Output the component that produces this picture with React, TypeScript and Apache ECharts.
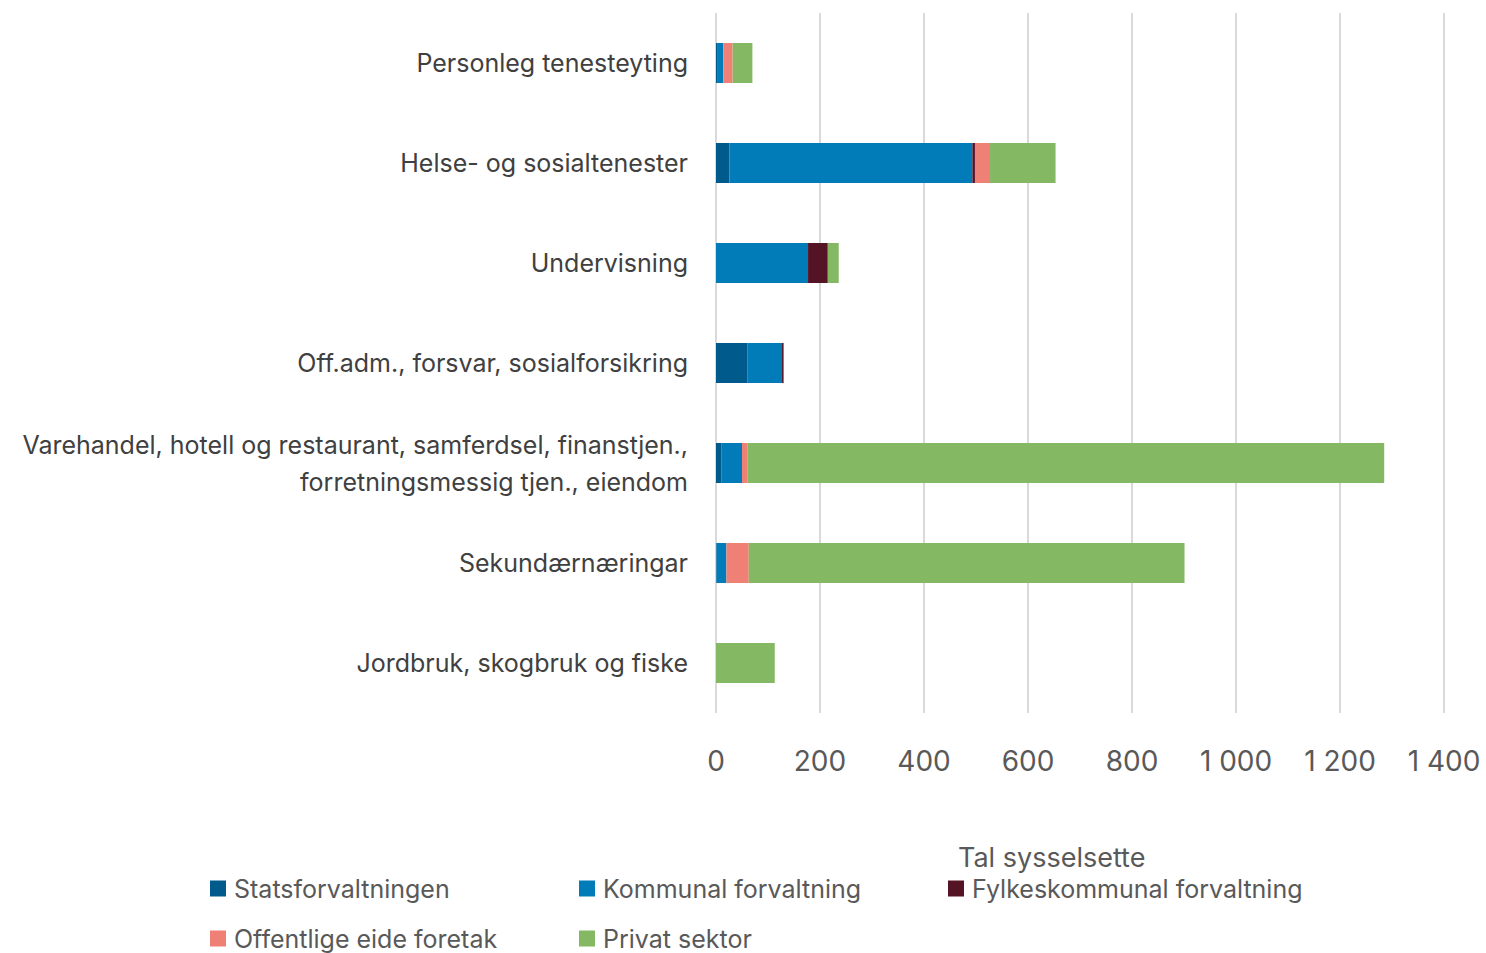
import React, { useEffect, useRef } from "react";
import * as echarts from "echarts";

const categories = [
  "Jordbruk, skogbruk og fiske",
  "Sekundærnæringar",
  "Varehandel, hotell og restaurant, samferdsel, finanstjen.,\nforretningsmessig tjen., eiendom",
  "Off.adm., forsvar, sosialforsikring",
  "Undervisning",
  "Helse- og sosialtenester",
  "Personleg tenesteyting",
];

const statsforvaltningen = [0, 1, 10, 60, 0, 26, 2];
const kommunal = [0, 19, 40, 67, 177, 467, 12];
const fylkeskommunal = [0, 0, 0, 3, 38, 5, 0];
const offentligeEide = [0, 43, 11, 0, 0, 29, 18];
const privatSektor = [113, 838, 1224, 0, 21, 126, 38];

const seriesNames = [
  "Statsforvaltningen",
  "Kommunal forvaltning",
  "Fylkeskommunal forvaltning",
  "Offentlige eide foretak",
  "Privat sektor",
];
const seriesData = [statsforvaltningen, kommunal, fylkeskommunal, offentligeEide, privatSektor];
const colors = ["#005a8c", "#027cb9", "#551326", "#ef8075", "#85b863"];

const xTicks = { min: 0, max: 1400, interval: 200 };
const axisTitle = "Tal sysselsette";

const FONT = "Inter, 'Open Sans', sans-serif";

export default function App() {
  const ref = useRef<HTMLDivElement>(null);
  useEffect(() => {
    if (!ref.current) return;
    const chart = echarts.init(ref.current, undefined, { renderer: "svg" });
    const legendPos = [
      { left: 210, top: 876 },
      { left: 579, top: 876 },
      { left: 948, top: 876 },
      { left: 210, top: 926 },
      { left: 579, top: 926 },
    ];
    chart.setOption({
      animation: false,
      color: colors,
      grid: { left: 716, right: 42, top: 13, bottom: 240, containLabel: false },
      xAxis: {
        type: "value",
        min: xTicks.min,
        max: xTicks.max,
        interval: xTicks.interval,
        axisLine: { show: false },
        axisTick: { show: false },
        splitLine: { show: true, lineStyle: { color: "#d9d9d9", width: 2 } },
        axisLabel: {
          margin: 34,
          fontSize: 28,
          color: "#595959",
          fontFamily: FONT,
          formatter: (v: number) => (v >= 1000 ? String(v).replace(/(\d)(\d{3})$/, "$1 $2") : String(v)),
        },
      },
      yAxis: {
        type: "category",
        data: categories,
        axisLine: { show: false },
        axisTick: { show: false },
        axisLabel: {
          margin: 28,
          fontSize: 25,
          lineHeight: 37,
          color: "#404040",
          fontFamily: FONT,
          align: "right",
        },
      },
      legend: seriesNames.map((n, i) => ({
        data: [n],
        left: legendPos[i].left,
        top: legendPos[i].top,
        padding: 0,
        itemWidth: 16,
        itemHeight: 16,
        itemGap: 0,
        icon: "rect",
        textStyle: { fontSize: 25, color: "#595959", fontFamily: FONT, padding: [0, 0, 0, 3] },
      })),
      graphic: [
        {
          type: "text",
          left: 958,
          top: 844,
          style: { text: axisTitle, fontSize: 27, fill: "#595959", fontFamily: FONT },
        },
      ],
      series: seriesNames.map((n, i) => ({
        name: n,
        type: "bar",
        stack: "total",
        barWidth: 40,
        data: seriesData[i],
        itemStyle: { color: colors[i] },
      })),
    });
    return () => chart.dispose();
  }, []);
  return <div ref={ref} style={{ width: 1486, height: 953, position: "absolute", left: 0, top: 0 }} />;
}
